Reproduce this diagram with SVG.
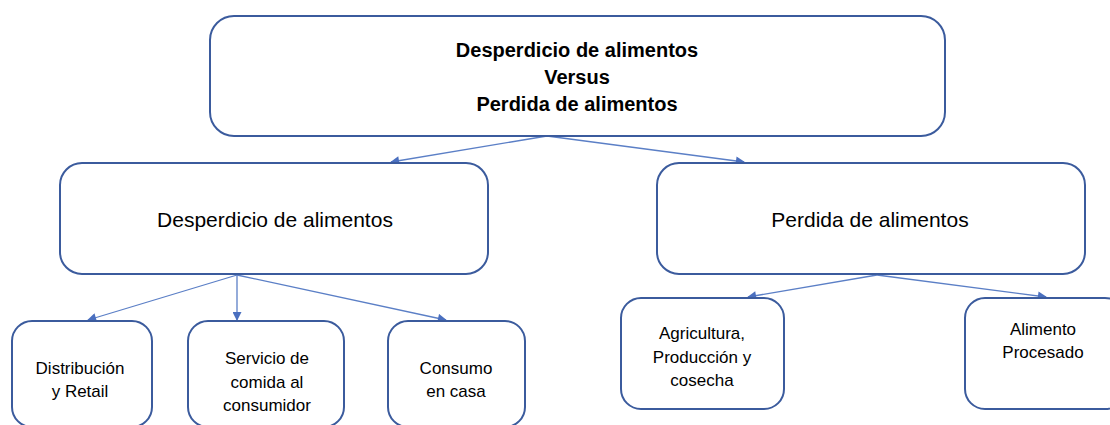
<svg xmlns="http://www.w3.org/2000/svg" width="1110" height="425" viewBox="0 0 1110 425">
<defs>
<style>
.box{fill:#fff;stroke:#3b5b9d;stroke-width:2}
.t{font-family:"Liberation Sans",Arial,sans-serif;fill:#000;text-anchor:middle}
.b{font-weight:bold;font-size:20px}
.m{font-size:21px}
.s{font-size:17px}
.c{stroke:#5b7fc6;stroke-width:1.3;fill:none;marker-end:url(#ah)}
</style>
<marker id="ah" viewBox="0 0 10 10" refX="9" refY="5" markerWidth="10" markerHeight="9" orient="auto" markerUnits="userSpaceOnUse">
<path d="M0,0 L10,5 L0,10 z" fill="#4a6fbf"/>
</marker>
</defs>
<rect width="1110" height="425" fill="#fff"/>
<g id="connectors">
<line class="c" x1="547" y1="136" x2="391" y2="162"/>
<line class="c" x1="547" y1="136" x2="744" y2="162"/>
<line class="c" x1="237" y1="275" x2="88" y2="320"/>
<line class="c" x1="237" y1="275" x2="237" y2="320"/>
<line class="c" x1="237" y1="275" x2="446" y2="320"/>
<line class="c" x1="877" y1="275" x2="748" y2="297"/>
<line class="c" x1="877" y1="275" x2="1046" y2="297"/>
</g>
<g id="top">
<rect class="box" x="210" y="16" width="735" height="120" rx="24"/>
<text class="t b" x="577" y="57">Desperdicio de alimentos</text>
<text class="t b" x="577" y="84">Versus</text>
<text class="t b" x="577" y="111">Perdida de alimentos</text>
</g>
<g id="desperdicio">
<rect class="box" x="60" y="163" width="428" height="111" rx="22"/>
<text class="t m" x="275" y="227">Desperdicio de alimentos</text>
</g>
<g id="perdida">
<rect class="box" x="657" y="163" width="428" height="111" rx="22"/>
<text class="t m" x="870" y="227">Perdida de alimentos</text>
</g>
<g id="distribucion">
<rect class="box" x="12" y="321" width="140" height="106" rx="20"/>
<text class="t s" x="80" y="374">Distribución</text>
<text class="t s" x="80" y="397">y Retail</text>
</g>
<g id="servicio">
<rect class="box" x="188" y="321" width="156" height="106" rx="20"/>
<text class="t s" x="267" y="364">Servicio de</text>
<text class="t s" x="267" y="388">comida al</text>
<text class="t s" x="267" y="411">consumidor</text>
</g>
<g id="consumo">
<rect class="box" x="388" y="321" width="137" height="106" rx="20"/>
<text class="t s" x="456" y="374">Consumo</text>
<text class="t s" x="456" y="397">en casa</text>
</g>
<g id="agricultura">
<rect class="box" x="621" y="298" width="163" height="111" rx="20"/>
<text class="t s" x="702" y="339">Agricultura,</text>
<text class="t s" x="702" y="363">Producción y</text>
<text class="t s" x="702" y="386">cosecha</text>
</g>
<g id="procesado">
<rect class="box" x="965" y="298" width="160" height="111" rx="20"/>
<text class="t s" x="1043" y="335">Alimento</text>
<text class="t s" x="1043" y="358">Procesado</text>
</g>
</svg>
